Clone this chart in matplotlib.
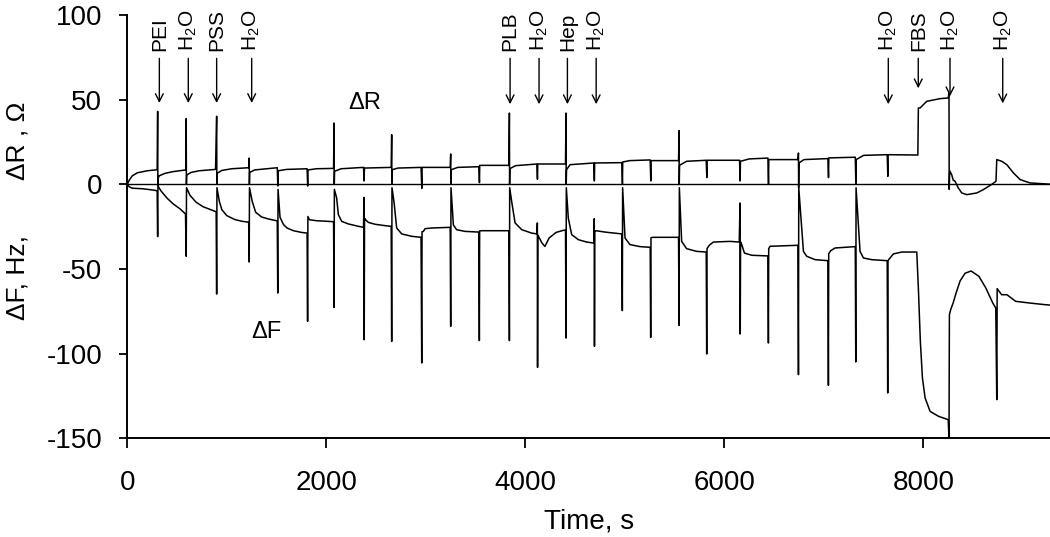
import matplotlib
matplotlib.use("Agg")
import matplotlib.pyplot as plt

plt.rcParams['font.family'] = ['Liberation Sans', 'DejaVu Sans']
plt.rcParams['mathtext.fontset'] = 'custom'
plt.rcParams['mathtext.rm'] = 'Liberation Sans'
plt.rcParams['axes.unicode_minus'] = False

# Delta F trace (time s, Hz); spikes are repeated times
dF_pts = [
    (0, 0), (20, -1.5), (50, -2.3), (150, -2.6), (250, -3.3), (300, -3.8),
    (305, -30.9), (308, -1.0),
    (340, -4), (400, -8.2), (460, -11.5), (530, -14.5), (585, -17.5),
    (592, -42.5), (595, -2),
    (630, -6.5), (690, -10.5), (760, -13.2), (840, -15.0), (893, -16.2),
    (898, -64.8), (901, -2),
    (925, -10), (950, -15), (1000, -18.5), (1080, -20.8), (1150, -21.8), (1220, -22.4),
    (1225, -45.9), (1228, -2),
    (1255, -10), (1290, -16.5), (1350, -19.3), (1420, -20.5), (1507, -21.6),
    (1512, -64.2), (1515, -3),
    (1535, -19.5), (1570, -23.8), (1605, -25.8), (1670, -27.4), (1750, -28.4), (1807, -28.8),
    (1812, -80.9), (1815, -19),
    (1830, -20.9), (1900, -21.5), (2000, -21.8), (2073, -22.1),
    (2078, -72.7), (2081, -3),
    (2104, -8), (2121, -17.9), (2155, -21.9), (2222, -23.4), (2322, -24.8), (2374, -25.4),
    (2379, -7.7), (2381, -91.8), (2384, -20),
    (2396, -21.0), (2423, -22.5), (2490, -23.6), (2590, -24.4), (2652, -24.8),
    (2657, -92.8), (2660, -2),
    (2680, -10.2), (2707, -25.8), (2758, -29.3), (2858, -30.7), (2952, -31.3),
    (2959, -105.5), (2962, -28),
    (2976, -27.8), (2992, -26.2), (3059, -25.8), (3245, -25.4),
    (3250, -83.9), (3253, -2),
    (3277, -24), (3310, -26.8), (3394, -27.8), (3533, -28.2),
    (3538, -92.3), (3541, -27.5),
    (3560, -27.4), (3835, -27.4),
    (3840, -92.3), (3843, -2),
    (3863, -10.2), (3897, -22.8), (3964, -26.8), (4064, -28.8), (4116, -29.3),
    (4121, -22.8), (4123, -108.1), (4126, -30),
    (4168, -34.7), (4197, -36.7), (4239, -31.7), (4310, -28.4), (4380, -27.2), (4404, -27.0),
    (4409, -90.8), (4412, -2),
    (4432, -20), (4466, -29.7), (4533, -32.7), (4617, -34.1), (4688, -34.7),
    (4693, -20.3), (4695, -95.7), (4698, -28),
    (4710, -27.4), (4800, -28.2), (4970, -29.3),
    (4975, -74.6), (4978, -2),
    (5002, -31.7), (5052, -35.6), (5153, -36.8), (5255, -37.2),
    (5260, -90.4), (5263, -31.5),
    (5280, -31.3), (5540, -31.3),
    (5545, -83.3), (5548, -2),
    (5571, -33.7), (5621, -38), (5722, -39.6), (5818, -40),
    (5823, -100.2), (5826, -38),
    (5849, -36), (5889, -34.1), (6057, -33.7), (6150, -34.1),
    (6158, -11.0), (6160, -88.4), (6163, -34),
    (6175, -35.6), (6202, -40.6), (6276, -41.9), (6438, -42.3),
    (6443, -93.7), (6446, -38),
    (6460, -36.6), (6740, -36.0),
    (6745, -112.4), (6748, -2),
    (6795, -39.6), (6828, -42.5), (6912, -44.5), (7041, -45.1),
    (7046, -118.7), (7049, -41),
    (7069, -39.2), (7113, -37.6), (7316, -36.8),
    (7321, -104.9), (7324, -2),
    (7364, -39.6), (7398, -43.5), (7482, -44.5), (7637, -45.1),
    (7642, -123.2), (7645, -45),
    (7666, -43.5), (7699, -41.1), (7783, -40), (7934, -40),
    (7950, -61.2), (7970, -92.7), (7991, -114.4), (8018, -126.2), (8068, -134.1),
    (8152, -137), (8250, -139),
    (8258, -150), (8262, -77),
    (8275, -74), (8300, -70), (8330, -64), (8370, -57), (8420, -52.5), (8480, -51.2),
    (8558, -54.3), (8628, -61.2), (8698, -70.1), (8728, -73.1),
    (8738, -127.2), (8742, -61.6),
    (8787, -65.2), (8840, -65.2), (8928, -69.1), (9068, -70.1), (9227, -71.1), (9270, -71.3),
]

# Delta R trace (time s, Ohm)
dR_pts = [
    (0, 0), (20, 2.5), (50, 5), (100, 6.8), (200, 8.0), (300, 8.6),
    (305, 43.1), (307, -1), (310, 3.5),
    (320, 5), (380, 6.5), (460, 7.5), (587, 8.5),
    (592, 38.8), (594, 0), (597, 5.5),
    (640, 7), (720, 8), (887, 8.8),
    (898, 40.2), (900, 0), (903, 6.5),
    (950, 8.2), (1050, 9.2), (1220, 9.8),
    (1225, 15.5), (1227, 0), (1230, 7),
    (1280, 8.5), (1400, 9.2), (1507, 9.8),
    (1513, -1), (1516, 8),
    (1600, 8.8), (1807, 9.2),
    (1813, -1), (1816, 8.5), (1900, 9.2), (2073, 9.4),
    (2078, 36.2), (2080, 0), (2083, 7.7),
    (2150, 9.2), (2374, 10.0),
    (2380, 2), (2383, 9.6), (2652, 10.0),
    (2657, 29.3), (2659, 0), (2662, 8.6), (2720, 9.6), (2952, 10.0),
    (2960, -2.4), (2963, 10), (3245, 10.0),
    (3250, 17.9), (3252, 0), (3255, 8.6), (3320, 10), (3533, 10.4),
    (3539, 1.0), (3542, 11.2), (3835, 11.2),
    (3840, 42.1), (3842, 0), (3845, 9.2), (3900, 11), (4116, 12.0),
    (4122, 3), (4125, 12), (4404, 12.0),
    (4409, 42.1), (4411, 0), (4414, 8.6), (4450, 11.6), (4688, 12.6),
    (4694, 2), (4697, 12.6), (4970, 12.8),
    (4976, 0), (4979, 13.2), (5050, 14.0), (5255, 14.4),
    (5261, 2), (5264, 14), (5540, 14),
    (5545, 31.7), (5547, 0), (5550, 11.2), (5620, 13.6), (5818, 14.2),
    (5824, 4), (5827, 14.2), (6153, 14.2),
    (6159, 2), (6162, 13.6), (6250, 15), (6438, 15.5),
    (6444, 0), (6447, 14.6), (6740, 14.6),
    (6745, 18.5), (6747, -2), (6750, 12.6), (6800, 14.6), (7041, 15.2),
    (7047, 4), (7050, 15.6), (7316, 16),
    (7322, 0), (7325, 14.6), (7400, 17.1), (7637, 17.5),
    (7643, 4.7), (7646, 17.5), (7945, 17.3),
    (7950, 45.1), (7967, 45.1), (8034, 49), (8168, 50.6), (8250, 51),
    (8258, 53.9), (8260, -3), (8265, 8), (8285, 5.7), (8300, 2.5), (8319, 1.8),
    (8350, -2), (8386, -5.1), (8436, -6.1), (8537, -5.1), (8604, -3.1), (8688, 0), (8730, 1.8),
    (8738, 14.6), (8788, 13.6), (8839, 11.6), (8906, 6.7), (8973, 2.8), (9073, 0.8),
    (9241, 0.2), (9270, 0.1),
]

# injections marked with arrows
event_labels = ['PEI', 'H$_2$O', 'PSS', 'H$_2$O', 'PLB', 'H$_2$O', 'Hep', 'H$_2$O',
                'H$_2$O', 'FBS', 'H$_2$O', 'H$_2$O']
event_times = [322, 613, 898, 1250, 3847, 4138, 4423, 4712, 7648, 7949, 8268, 8798]
arrow_tips = [48, 48, 48, 48, 47.3, 47.3, 47.3, 47.3, 47.3, 56.7, 52, 47.8]

y_ticks = [-150, -100, -50, 0, 50, 100]
x_ticks = [0, 2000, 4000, 6000, 8000]

fig = plt.figure(figsize=(10.5, 5.37), dpi=100)
ax = fig.add_axes([127.3 / 1050, 98.7 / 537, 922.7 / 1050, 423.3 / 537])

tF, vF = zip(*dF_pts)
tR, vR = zip(*dR_pts)
ax.plot(tF, vF, color='black', lw=1.1)
ax.plot(tR, vR, color='black', lw=1.1)
ax.axhline(0, color='black', lw=1.0)

for lab, t, tip in zip(event_labels, event_times, arrow_tips):
    ax.annotate('', xy=(t, tip), xytext=(t, 74.4),
                arrowprops=dict(arrowstyle='->', color='black', lw=1.0,
                                mutation_scale=14, shrinkA=0, shrinkB=0))
    ax.text(t, 78.6, lab, rotation=90, ha='center', va='bottom', fontsize=15,
            clip_on=False)

ax.text(2389, 48, '\u0394R', ha='center', va='center', fontsize=17)
ax.text(1401, -87, '\u0394F', ha='center', va='center', fontsize=17)

ax.set_xlim(0, 9273)
ax.set_ylim(-150, 100)
ax.set_xticks(x_ticks)
ax.set_yticks(y_ticks)
ax.set_xticklabels([str(x) for x in x_ticks])
ax.set_yticklabels([str(y) for y in y_ticks])
ax.tick_params(axis='y', direction='out', length=6, width=1.3, pad=12, labelsize=20)
ax.tick_params(axis='x', direction='out', length=7, width=1.3, pad=16, labelsize=20)
for side in ['top', 'right']:
    ax.spines[side].set_visible(False)
for side in ['left', 'bottom']:
    ax.spines[side].set_linewidth(1.4)

ax.set_xlabel('Time, s', fontsize=20, labelpad=9)

fig.text(17 / 1050, 1 - 278 / 537, '\u0394F, Hz,', rotation=90, ha='center', va='center', fontsize=19)
fig.text(17 / 1050, 1 - 141 / 537, '\u0394R , \u03a9', rotation=90, ha='center', va='center', fontsize=19)

fig.savefig('out.png', dpi=100)
